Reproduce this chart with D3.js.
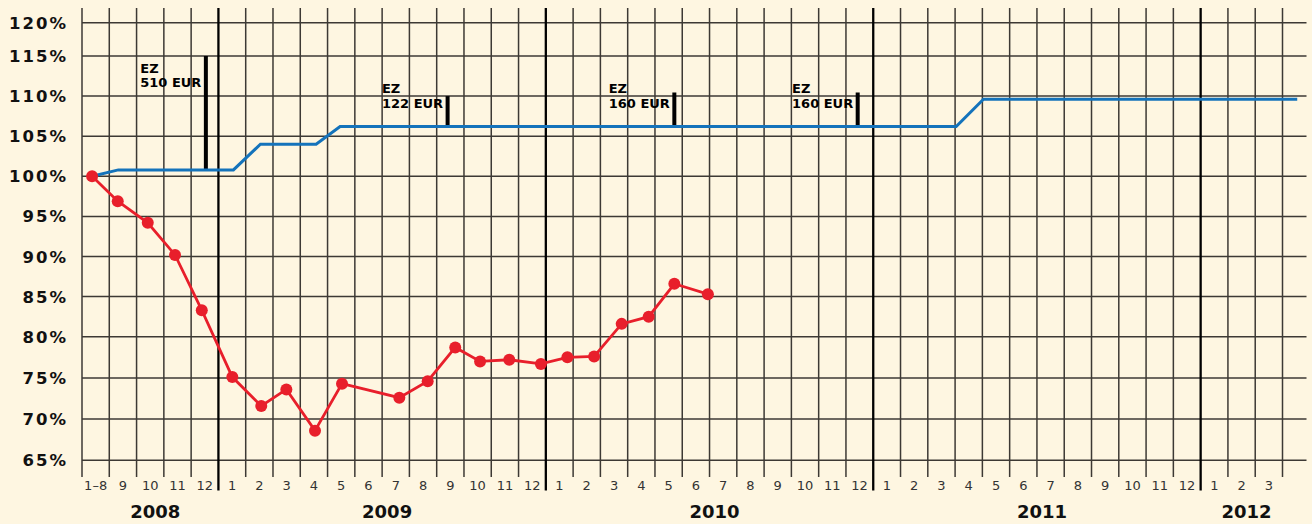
<!DOCTYPE html>
<html>
<head>
<meta charset="utf-8">
<script src="https://cdn.jsdelivr.net/npm/d3@7/dist/d3.min.js"></script>
<style>
  html, body { margin: 0; padding: 0; background: #fef6e1; }
  svg { display: block; }
</style>
</head>
<body>
<svg id="chart" width="1312" height="524"></svg>
<script>
// ---------- DATA ----------
const years = ["2008", "2009", "2010", "2011", "2012"];
const yearMonthCounts = [5, 12, 12, 12, 3];
const monthLabels = [
  "1–8", "9", "10", "11", "12",
  "1", "2", "3", "4", "5", "6", "7", "8", "9", "10", "11", "12",
  "1", "2", "3", "4", "5", "6", "7", "8", "9", "10", "11", "12",
  "1", "2", "3", "4", "5", "6", "7", "8", "9", "10", "11", "12",
  "1", "2", "3"
];
const yTicks = [65, 70, 75, 80, 85, 90, 95, 100, 105, 110, 115, 120];

// red series: position in month columns (column index + fraction) and value in %
const redMonthPos = [0.37, 1.31, 2.41, 3.41, 4.39, 5.51, 6.57, 7.49, 8.54, 9.53,
  11.63, 12.67, 13.68, 14.59, 15.66, 16.82, 17.79, 18.77, 19.78, 20.77, 21.71, 22.94];
const redValues = [100, 96.9, 94.2, 90.2, 83.3, 75.1, 71.6, 73.6, 68.6, 74.3,
  72.6, 74.6, 78.7, 77.0, 77.2, 76.7, 77.5, 77.6, 81.6, 82.5, 86.6, 85.3];

// blue series
const blueMonthPos = [0.37, 1.33, 5.55, 6.54, 8.58, 9.46, 32.04, 33.04, 44.54];
const blueValues = [100, 100.8, 100.8, 104.0, 104.0, 106.2, 106.2, 109.6, 109.6];

// EZ markers
const ezMonthPos = [4.54, 13.40, 21.71, 28.43];
const ezTopValues = [115, 110, 110.45, 110.45];
const ezAmounts = ["510 EUR", "122 EUR", "160 EUR", "160 EUR"];
const ezLabelLevels = [111.1, 108.55, 108.55, 108.55];
const ezTitle = "EZ";

// ---------- LAYOUT ----------
const svg = d3.select("#chart");
const totalMonths = d3.sum(yearMonthCounts);
const x = d3.scaleLinear().domain([0, totalMonths]).range([82, 1282.5]);
const y = d3.scaleLinear().domain([65, 80, 115, 120]).range([460.3, 336.7, 56, 22.7]);
const gridTop = 8, gridBottom = 477, yearLineBottom = 490.5;
const gridRight = x(totalMonths) + 24;

svg.append("rect").attr("width", 1312).attr("height", 524).attr("fill", "#fef6e1");

// year boundaries
const cum = d3.cumsum(yearMonthCounts);
const yearStarts = [0, ...Array.from(cum).slice(0, -1)];
const boundarySet = new Set(Array.from(cum).slice(0, -1));

// horizontal grid
svg.append("g").selectAll("line").data(yTicks).join("line")
  .attr("x1", x(0)).attr("x2", gridRight)
  .attr("y1", d => y(d)).attr("y2", d => y(d))
  .attr("stroke", "#3d3934").attr("stroke-width", 1.5);

// vertical grid
const vIdx = d3.range(0, totalMonths + 1);
svg.append("g").selectAll("line").data(vIdx).join("line")
  .attr("x1", d => x(d)).attr("x2", d => x(d))
  .attr("y1", gridTop)
  .attr("y2", d => boundarySet.has(d) ? yearLineBottom : gridBottom)
  .attr("stroke", d => boundarySet.has(d) ? "#000" : "#3d3934")
  .attr("stroke-width", d => boundarySet.has(d) ? 2.3 : 1.5);

// blue interpolation for bar bottoms
function blueAt(t) {
  for (let i = 0; i < blueMonthPos.length - 1; i++) {
    const a = blueMonthPos[i], b = blueMonthPos[i + 1];
    if (t >= a && t <= b) return blueValues[i] + (blueValues[i + 1] - blueValues[i]) * (t - a) / (b - a);
  }
  return blueValues[blueValues.length - 1];
}

// EZ bars
const ez = ezMonthPos.map((t, i) => ({ t, top: ezTopValues[i], bottom: blueAt(t), amount: ezAmounts[i], lvl: ezLabelLevels[i] }));
svg.append("g").selectAll("line").data(ez).join("line")
  .attr("x1", d => x(d.t)).attr("x2", d => x(d.t))
  .attr("y1", d => y(d.top)).attr("y2", d => y(d.bottom))
  .attr("stroke", "#000").attr("stroke-width", 4);

const ezG = svg.append("g").attr("font-family", "DejaVu Sans, sans-serif")
  .attr("font-weight", "bold").attr("font-size", 13).attr("fill", "#000");
ez.forEach(d => {
  const amt = ezG.append("text")
    .attr("x", x(d.t) - 4.5).attr("y", y(d.lvl))
    .attr("text-anchor", "end").text(d.amount);
  const bb = amt.node().getBBox();
  ezG.append("text").attr("x", bb.x).attr("y", y(d.lvl) - 14.5).text(ezTitle);
});

// blue line
const blueData = blueMonthPos.map((t, i) => [t, blueValues[i]]);
svg.append("path").datum(blueData)
  .attr("d", d3.line().x(d => x(d[0])).y(d => y(d[1])))
  .attr("fill", "none").attr("stroke", "#1473bb").attr("stroke-width", 3)
  .attr("stroke-linejoin", "miter");

// red line
const redData = redMonthPos.map((t, i) => [t, redValues[i]]);
svg.append("path").datum(redData)
  .attr("d", d3.line().x(d => x(d[0])).y(d => y(d[1])))
  .attr("fill", "none").attr("stroke", "#e81f2b").attr("stroke-width", 2.8);
svg.append("g").selectAll("circle").data(redData).join("circle")
  .attr("cx", d => x(d[0])).attr("cy", d => y(d[1])).attr("r", 6)
  .attr("fill", "#e81f2b");

// y labels
svg.append("g").selectAll("text").data(yTicks).join("text")
  .attr("x", 68).attr("y", d => y(d) + 6)
  .attr("text-anchor", "end")
  .attr("font-family", "DejaVu Sans, sans-serif").attr("font-weight", "bold")
  .attr("font-size", 16.5).attr("letter-spacing", 2).attr("fill", "#111")
  .text(d => d + "%");

// month labels
svg.append("g").selectAll("text").data(monthLabels).join("text")
  .attr("x", (d, i) => x(i + 0.5)).attr("y", 489.5)
  .attr("text-anchor", "middle")
  .attr("font-family", "DejaVu Sans, sans-serif").attr("font-size", 13)
  .attr("fill", "#333")
  .text(d => d);

// year labels
svg.append("g").selectAll("text").data(years).join("text")
  .attr("x", (d, i) => x(yearStarts[i] + yearMonthCounts[i] / 2) + 5)
  .attr("y", 518)
  .attr("text-anchor", "middle")
  .attr("font-family", "DejaVu Sans, sans-serif").attr("font-weight", "bold")
  .attr("font-size", 18).attr("fill", "#111")
  .text(d => d);
</script>
</body>
</html>
